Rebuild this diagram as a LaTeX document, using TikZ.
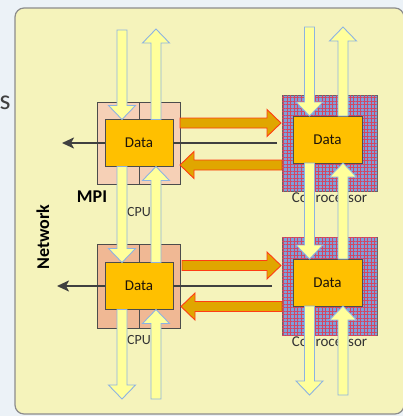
\documentclass[tikz,border=0pt]{standalone}
\usepackage{fontspec}
\setmainfont{Carlito}
\usepackage{tikz}
\usetikzlibrary{arrows.meta,calc,positioning,patterns.meta}
\definecolor{pagebg}{RGB}{236,242,247}
\definecolor{panelfill}{RGB}{245,243,187}
\definecolor{panelline}{RGB}{140,140,140}
\definecolor{cpupeach}{RGB}{246,208,182}
\definecolor{cpusalmon}{RGB}{240,184,148}
\definecolor{datagold}{RGB}{255,192,0}
\definecolor{copblue}{RGB}{125,160,220}
\definecolor{gridred}{RGB}{210,70,100}
\definecolor{pipeyellow}{RGB}{255,255,155}
\definecolor{pipeblue}{RGB}{141,179,226}
\definecolor{xferfill}{RGB}{224,166,0}
\definecolor{xferline}{RGB}{255,60,20}
\definecolor{netgray}{RGB}{64,64,64}
\tikzset{
  box/.style={rectangle, draw=black!70, line width=0.8pt, inner sep=0pt, outer sep=0pt},
  cpubox/.style={box, fill=cpupeach, minimum height=82},
  databox/.style={box, fill=datagold, minimum width=68, minimum height=47, text=black!85!brown, font=\fontsize{15}{17}\selectfont},
  copbox/.style={box, draw=black!60, fill=copblue, minimum width=95, minimum height=96,
    postaction={pattern={Lines[angle=0,distance=3.5pt,line width=0.5pt]}, pattern color=gridred},
    postaction={pattern={Lines[angle=90,distance=3.5pt,line width=0.5pt]}, pattern color=gridred}},
  lbl/.style={font=\fontsize{14}{16}\selectfont, text=black!80},
  coplbl/.style={font=\fontsize{15}{17}\selectfont, text=black!80, inner sep=2pt},
  biglbl/.style={font=\bfseries\fontsize{18}{20}\selectfont},
  pipe/.style={fill=pipeyellow, draw=pipeblue, line width=0.9pt, line join=miter},
  xfer/.style={fill=xferfill, draw=xferline, line width=0.9pt, line join=miter},
  netline/.style={draw=netgray, line width=2.8pt},
  netarrow/.style={netline, -{Stealth[length=12pt, width=11pt, inset=3pt]}},
  panel/.style={fill=panelfill, draw=panelline, line width=1.2pt, rounded corners=9pt},
}
% block arrow from #2 to #3 (tip), style #1
\newcommand{\blockarrow}[3]{%
  \coordinate (ba-h) at ($(#3)!14pt!(#2)$);
  \path[#1] ($(#2)!5pt!90:(#3)$) -- ($(ba-h)!5pt!90:(#3)$) -- ($(ba-h)!13.5pt!90:(#3)$)
    -- (#3) -- ($(ba-h)!13.5pt!-90:(#3)$) -- ($(ba-h)!5pt!-90:(#3)$) -- ($(#2)!5pt!-90:(#3)$) -- cycle;
}
\begin{document}
\begin{tikzpicture}[x=1pt, y=-1pt]
  \useasboundingbox (0,0) rectangle (403,416);
  \clip (0,0) rectangle (403,416);
  \fill[pagebg] (0,0) rectangle (403,416);
  \node[font=\fontsize{28}{30}\selectfont, text=black!75] (slide) at (5,103) {s};

  % Panel
  \draw[panel] (15,8) rectangle (404,414);

  % CPU blocks
  \node[cpubox, minimum width=42] (cpuAl) at (118,143) {};
  \node[cpubox, minimum width=41] (cpuAr) at (159.5,143) {};
  \node[cpubox, fill=cpusalmon, minimum width=42, minimum height=84] (cpuBl) at (118,286) {};
  \node[cpubox, fill=cpusalmon, minimum width=41, minimum height=84] (cpuBr) at (159.5,286) {};

  % Coprocessor blocks
  \node[copbox] (copA) at (329.5,143) {};
  \node[copbox, minimum height=98] (copB) at (329.5,286) {};

  % Labels
  \node[biglbl] (mpi) at (92,197) {MPI};
  \node[biglbl, rotate=90] (net) at (43,237) {Network};
  \node[lbl] (cpuAlbl) at (139,212) {CPU};
  \node[lbl] (cpuBlbl) at (139,340) {CPU};
  \node[coplbl, below=0pt of copA] (copAlbl) {Coprocessor};
  \node[coplbl, below=0pt of copB] (copBlbl) {Coprocessor};

  % Data
  \node[databox] (dataA) at (139,143) {Data};
  \node[databox] (dataB) at (139,286) {Data};
  \node[databox, minimum width=69] (dcopA) at (327.5,139.5) {Data};
  \node[databox, minimum width=69] (dcopB) at (327.5,282.5) {Data};

  % Network lines
  \coordinate (netA) at (62,143);
  \coordinate (lnA) at (277,143);
  \coordinate (netB) at (57,286);
  \coordinate (lnB) at (272,286);
  \draw[netline] (lnA) -- (dataA.east);
  \draw[netarrow] (dataA.west) -- (netA);
  \draw[netline] (lnB) -- (dataB.east);
  \draw[netarrow] (dataB.west) -- (netB);

  % Memory pipes, CPU
  \coordinate (inA) at (122,30);
  \coordinate (outA) at (156,29);
  \coordinate (inB) at (122,399);
  \coordinate (outB) at (156,399);
  \blockarrow{pipe}{inA}{inA |- dataA.north}
  \blockarrow{pipe}{outA |- dataA.north}{outA}
  \blockarrow{pipe}{inA |- dataA.south}{inA |- dataB.north}
  \blockarrow{pipe}{outA |- dataB.north}{outA |- dataA.south}
  \blockarrow{pipe}{inB |- dataB.south}{inB}
  \blockarrow{pipe}{outB}{outB |- dataB.south}

  % Memory pipes, coprocessor
  \coordinate (cinA) at (309.5,27);
  \coordinate (coutA) at (343,27);
  \coordinate (cinB) at (309.5,395);
  \coordinate (coutB) at (343,395);
  \blockarrow{pipe}{cinA}{cinA |- dcopA.north}
  \blockarrow{pipe}{coutA |- dcopA.north}{coutA}
  \blockarrow{pipe}{cinA |- dcopA.south}{cinA |- dcopB.north}
  \blockarrow{pipe}{coutA |- dcopB.north}{coutA |- dcopA.south}
  \blockarrow{pipe}{cinB |- dcopB.south}{cinB}
  \blockarrow{pipe}{coutB}{coutB |- dcopB.south}

  % Transfers CPU <-> coprocessor
  \coordinate (sendA) at ([yshift=20pt]cpuAr.east);
  \coordinate (getA) at ([yshift=20pt, xshift=-1pt]copA.west);
  \coordinate (backA) at ([yshift=-22pt]copA.west);
  \coordinate (homeA) at ([yshift=-22pt]cpuAr.east);
  \coordinate (sendB) at ([yshift=20.5pt, xshift=2pt]cpuBr.east);
  \coordinate (getB) at ([yshift=20.5pt, xshift=-1pt]copB.west);
  \coordinate (backB) at ([yshift=-20.5pt]copB.west);
  \coordinate (homeB) at ([yshift=-20.5pt, xshift=1pt]cpuBr.east);
  \blockarrow{xfer}{sendA}{getA}
  \blockarrow{xfer}{backA}{homeA}
  \blockarrow{xfer}{sendB}{getB}
  \blockarrow{xfer}{backB}{homeB}

\end{tikzpicture}
\end{document}
